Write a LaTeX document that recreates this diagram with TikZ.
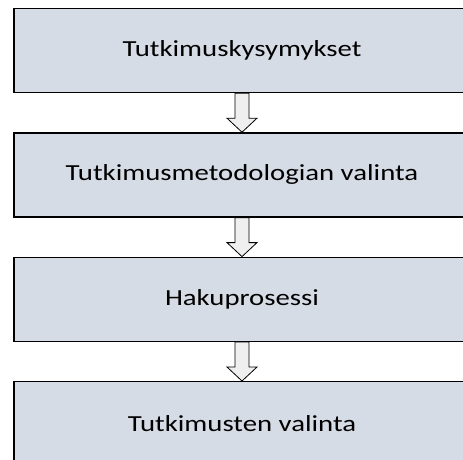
\documentclass[tikz,border=0pt]{standalone}
\usepackage{fontspec}
\usepackage{graphicx}
\setmainfont{Carlito}
\usetikzlibrary{positioning, calc}
\definecolor{boxfill}{HTML}{D6DCE5}
\definecolor{arrowfill}{HTML}{EFEFEF}
\newcommand{\widetext}[1]{\scalebox{1.25}[1]{#1}}

\begin{document}
\begin{tikzpicture}
                \tikzstyle{box} = [shape=rectangle, fill=boxfill, draw=black, line width=1.4pt, minimum width=456pt, minimum height=84pt, inner sep=0pt, font=\fontsize{23}{27}\selectfont];
                \tikzstyle{blockarrow} = [draw=black, fill=arrowfill, line width=0.8pt, line join=miter];

                \clip (0,0) rectangle (463pt,-459pt);

                \node[box](Q) at (242pt,-50.5pt) {\widetext{Tutkimuskysymykset}};
                \node[box, below=39pt of Q](M) {\widetext{Tutkimusmetodologian valinta}};
                \node[box, below=39pt of M](H) {\widetext{Hakuprosessi}};
                \node[box, below=39pt of H](V) {\widetext{Tutkimusten valinta}};

                \foreach \a/\b in {Q/M, M/H, H/V}
                    \draw[blockarrow] ($(\a.south)+(-7pt,0)$) -- ($(\b.north)+(-7pt,14pt)$)
                        -- ($(\b.north)+(-15pt,14pt)$) -- (\b.north)
                        -- ($(\b.north)+(15pt,14pt)$) -- ($(\b.north)+(7pt,14pt)$)
                        -- ($(\a.south)+(7pt,0)$) -- cycle;
            \end{tikzpicture}
\end{document}
